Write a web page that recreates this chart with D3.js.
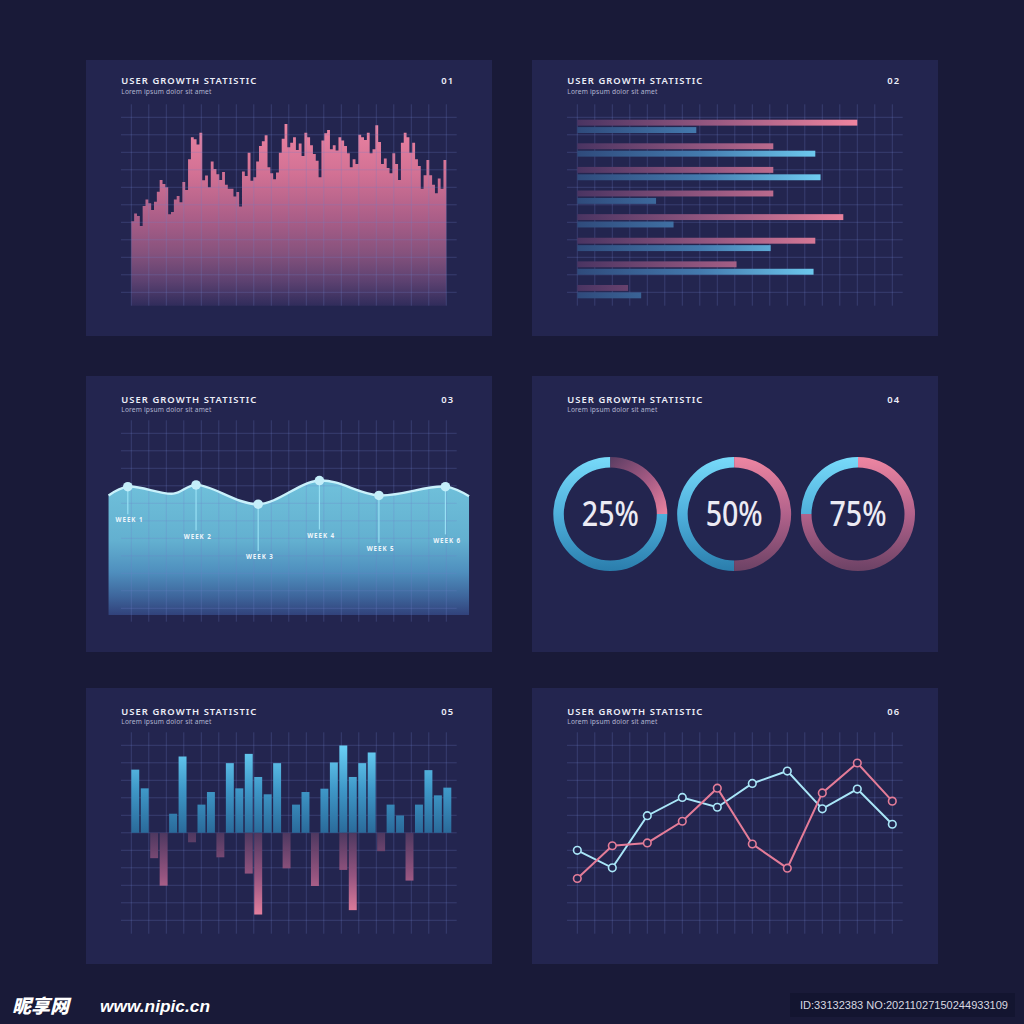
<!DOCTYPE html>
<html><head><meta charset="utf-8">
<script src="https://cdn.jsdelivr.net/npm/d3@7"></script>
<style>html,body{margin:0;padding:0;background:#191a38;}svg{display:block}</style>
</head><body>
<svg id="c" width="1024" height="1024"></svg>
<script>
// ---------------- DATA ----------------
const panelNumbers = ["01", "02", "03", "04", "05", "06"];
const titleText = "USER GROWTH STATISTIC";
const subtitleText = "Lorem ipsum dolor sit amet";

// Panel 01: stepped area (grid units, 0..10)
const growthValues = [4.06,4.51,4.36,3.79,4.93,5.31,5.09,4.70,5.18,5.75,6.42,6.19,6.00,4.46,4.59,5.31,5.50,5.14,6.30,5.85,
  7.60,8.86,8.74,8.44,9.12,6.40,6.67,6.00,7.47,7.05,6.74,6.42,6.88,6.15,5.92,5.92,5.47,5.73,4.90,6.91,
  6.65,7.98,6.38,6.57,7.47,8.36,8.63,8.97,7.14,6.80,6.46,6.84,7.98,8.78,9.62,8.29,8.55,8.86,8.13,8.51,
  7.79,9.12,8.86,8.40,7.90,7.52,6.57,8.67,9.09,9.28,8.17,8.40,8.10,8.86,8.67,8.36,7.94,7.14,7.60,7.33,
  9.01,8.86,8.70,9.12,7.94,8.17,9.54,8.59,7.33,7.64,7.10,6.80,7.94,7.33,6.42,8.55,9.12,8.86,7.98,8.55,
  7.60,7.22,5.92,6.69,7.56,6.69,6.15,5.66,6.50,5.92,7.56];

// Panel 02: paired horizontal bars (grid units, 0..18)
const hbarCategories = ["A", "B", "C", "D", "E", "F", "G", "H"];
const hbarPink = [16.0, 11.2, 11.2, 11.2, 15.2, 13.6, 9.1, 2.9];
const hbarBlue = [6.8, 13.6, 13.9, 4.5, 5.5, 11.05, 13.5, 3.65];

// Panel 03: smooth wave (x in grid columns, y in grid units)
const waveX = [-1.3, -0.2, 2.4, 3.7, 7.25, 10.75, 14.15, 17.95, 19.3];
const waveY = [6.45, 6.95, 6.55, 7.05, 5.95, 7.3, 6.45, 6.95, 6.4];
const weekLabels = ["WEEK 1", "WEEK 2", "WEEK 3", "WEEK 4", "WEEK 5", "WEEK 6"];
const weekKnots = [1, 3, 4, 5, 6, 7];

// Panel 04: donuts
const donutPercents = [25, 50, 75];

// Panel 05: positive / negative bars (grid units)
const posValues = [3.61,2.54,0,0,1.09,4.36,0,1.61,2.33,0,3.98,2.54,4.51,3.19,2.20,3.98,0,1.61,2.33,0,2.52,4.02,4.99,3.19,3.98,4.59,0,1.61,0.99,0,1.61,3.58,2.14,2.58];
const negValues = [0,0,-1.45,-3.02,0,0,-0.54,0,0,-1.40,0,0,-2.33,-4.67,0,0,-2.03,0,0,-3.04,0,0,-2.12,-4.42,0,0,-1.05,0,0,-2.73,0,0,0,0];

// Panel 06: two lines (grid units)
const lineBlue = [4.0, 3.0, 5.98, 7.02, 6.46, 7.82, 8.53, 6.37, 7.5, 5.49];
const linePink = [2.39, 4.26, 4.42, 5.66, 7.55, 4.36, 2.98, 7.28, 8.99, 6.81];

// ---------------- LAYOUT / STYLE ----------------
const panelCols = [86, 532], panelRows = [60, 376, 688];
const panelW = 406, panelH = 276;
const titleDy = [23.8, 26.7, 26.7], subDy = [33.8, 35.9, 35.9];
const weekLabelDrop = [33.6, 51.6, 52.7, 55, 53.3, 53.7];
const C = {bg: "#191a38", panel: "#23254f", grid: "#6a80c8", title: "#eceef8", sub: "#b3b5d2"};

const svg = d3.select("#c");
svg.append("rect").attr("width", 1024).attr("height", 1024).attr("fill", C.bg);
const defs = svg.append("defs");
function linGrad(id, x1, y1, x2, y2, stops) {
  const g = defs.append("linearGradient").attr("id", id).attr("gradientUnits", "userSpaceOnUse")
    .attr("x1", x1).attr("y1", y1).attr("x2", x2).attr("y2", y2);
  stops.forEach(s => g.append("stop").attr("offset", s[0]).attr("stop-color", s[1]));
}

const panels = panelNumbers.map((n, k) => ({
  n, px: panelCols[k % 2], py: panelRows[Math.floor(k / 2)], row: Math.floor(k / 2)
}));

function gridScales(p) {
  return {
    gx: d3.scaleLinear().domain([0, 18]).range([p.px + 45.3, p.px + 360.3]),
    gy: d3.scaleLinear().domain([0, 10]).range([p.py + 232.3, p.py + 57.3])
  };
}
function drawGrid(g, p) {
  const {gx, gy} = gridScales(p);
  const gg = g.append("g").attr("stroke", C.grid).attr("stroke-opacity", 0.28).attr("stroke-width", 1);
  gg.selectAll(".v").data(d3.range(19)).join("line")
    .attr("x1", d => gx(d)).attr("x2", d => gx(d))
    .attr("y1", p.py + 44.3).attr("y2", p.py + 245.7);
  gg.selectAll(".h").data(d3.range(11)).join("line")
    .attr("y1", d => gy(d)).attr("y2", d => gy(d))
    .attr("x1", p.px + 35).attr("x2", p.px + 370.7);
}

// panel frames + titles
panels.forEach(p => {
  const g = svg.append("g");
  g.append("rect").attr("x", p.px).attr("y", p.py).attr("width", panelW).attr("height", panelH).attr("fill", C.panel);
  g.append("text").attr("x", p.px + 35.3).attr("y", p.py + titleDy[p.row])
    .attr("font-family", "Noto Sans, Open Sans, sans-serif").attr("font-weight", 600).attr("font-size", 9.4)
    .attr("fill", C.title).attr("textLength", 135).attr("lengthAdjust", "spacing").text(titleText);
  g.append("text").attr("x", p.px + 35.3).attr("y", p.py + subDy[p.row])
    .attr("font-family", "Noto Sans, Open Sans, sans-serif").attr("font-size", 6.6)
    .attr("fill", C.sub).attr("textLength", 90).attr("lengthAdjust", "spacing").text(subtitleText);
  g.append("text").attr("x", p.px + 368).attr("y", p.py + titleDy[p.row]).attr("text-anchor", "end")
    .attr("font-family", "Noto Sans, Open Sans, sans-serif").attr("font-weight", 600).attr("font-size", 9.4)
    .attr("letter-spacing", 1).attr("fill", C.title).text(p.n);
});

// ---------- Panel 01 ----------
(function () {
  const p = panels[0], {gx, gy} = gridScales(p);
  const x = d3.scaleLinear().domain([0, growthValues.length]).range(gx.range());
  linGrad("g1", 0, p.py + 57, 0, p.py + 246, [[0, "#ee85a3"], [0.3, "#d27194"], [0.55, "#a85d87"], [0.72, "#86527d"], [0.87, "#5c4170"], [1, "#302c5b"]]);
  const data = growthValues.map((v, i) => ({i, v}));
  data.push({i: growthValues.length, v: growthValues[growthValues.length - 1]});
  const area = d3.area().x(d => x(d.i)).y0(gy(-0.77)).y1(d => gy(d.v)).curve(d3.curveStepAfter);
  svg.append("path").datum(data).attr("d", area).attr("fill", "url(#g1)");
  drawGrid(svg.append("g"), p);
})();

// ---------- Panel 02 ----------
(function () {
  const p = panels[1], {gx} = gridScales(p);
  const y = d3.scaleBand().domain(hbarCategories).range([p.py + 59.7, p.py + 238.3]).paddingInner(0.436);
  const sub = d3.scaleBand().domain(["pink", "blue"]).range([0, y.bandwidth()]).paddingInner(0.2);
  linGrad("g2p", p.px + 45, 0, p.px + 328, 0, [[0, "#4a3462"], [0.5, "#9a5a82"], [1, "#f0859f"]]);
  linGrad("g2b", p.px + 45, 0, p.px + 292, 0, [[0, "#2f4a7b"], [0.5, "#447aae"], [1, "#70cff3"]]);
  drawGrid(svg.append("g"), p);
  const g = svg.append("g");
  g.selectAll(".pk").data(hbarPink).join("rect")
    .attr("x", gx(0)).attr("y", (d, i) => y(hbarCategories[i]) + sub("pink"))
    .attr("width", d => gx(d) - gx(0)).attr("height", sub.bandwidth()).attr("fill", "url(#g2p)");
  g.selectAll(".bl").data(hbarBlue).join("rect")
    .attr("x", gx(0)).attr("y", (d, i) => y(hbarCategories[i]) + sub("blue"))
    .attr("width", d => gx(d) - gx(0)).attr("height", sub.bandwidth()).attr("fill", "url(#g2b)");
})();

// ---------- Panel 03 ----------
(function () {
  const p = panels[2], {gx, gy} = gridScales(p);
  linGrad("g3", 0, p.py + 104, 0, p.py + 239, [[0, "#70c1db"], [0.45, "#63b0d0"], [0.68, "#4f8fbe"], [0.86, "#3e669c"], [1, "#31427b"]]);
  const pts = waveX.map((v, i) => ({x: v, y: waveY[i]}));
  const curve = d3.curveCatmullRom.alpha(0.5);
  const area = d3.area().x(d => gx(d.x)).y0(gy(-0.38)).y1(d => gy(d.y)).curve(curve);
  const line = d3.line().x(d => gx(d.x)).y(d => gy(d.y)).curve(curve);
  svg.append("path").datum(pts).attr("d", area).attr("fill", "url(#g3)");
  drawGrid(svg.append("g"), p);
  svg.append("path").datum(pts).attr("d", line).attr("fill", "none").attr("stroke", "#c9f1fb").attr("stroke-width", 2.4);
  const wk = weekKnots.map((k, i) => ({label: weekLabels[i], x: gx(pts[k].x), y: gy(pts[k].y), drop: weekLabelDrop[i]}));
  const g = svg.append("g");
  g.selectAll("line").data(wk).join("line")
    .attr("x1", d => d.x).attr("x2", d => d.x).attr("y1", d => d.y).attr("y2", d => d.y + d.drop - 6)
    .attr("stroke", "#98e0f4").attr("stroke-width", 1.2);
  g.selectAll("circle").data(wk).join("circle")
    .attr("cx", d => d.x).attr("cy", d => d.y).attr("r", 4.8).attr("fill", "#c4eef9");
  g.selectAll("text").data(wk).join("text")
    .attr("x", d => d.x + 1.2).attr("y", d => d.y + d.drop + 2.2).attr("text-anchor", "middle")
    .attr("font-family", "Noto Sans, sans-serif").attr("font-weight", 700).attr("font-size", 6.2)
    .attr("fill", "#eef6fb").attr("textLength", 27).attr("lengthAdjust", "spacing").text(d => d.label);
})();

// ---------- Panel 04 ----------
(function () {
  const p = panels[3];
  const cx = d3.scalePoint().domain(donutPercents).range([p.px + 78.3, p.px + 326]);
  const cy = p.py + 138;
  const ang = d3.scaleLinear().domain([0, 100]).range([0, 2 * Math.PI]);
  const arc = d3.arc().innerRadius(46.5).outerRadius(57);
  donutPercents.forEach((v, k) => {
    const g = svg.append("g").attr("transform", `translate(${cx(v)},${cy})`);
    linGrad("g4b" + k, 0, -57, 0, 57, [[0, "#78daf9"], [0.5, "#4fb0dc"], [1, "#2a7dac"]]);
    if (k === 0) linGrad("g4p" + k, 0, -57, 57, 0, [[0, "#5a3c62"], [0.55, "#a85c85"], [1, "#ec84a0"]]);
    else linGrad("g4p" + k, 0, -57, 0, 57, [[0, "#ee86a2"], [0.5, "#b1628b"], [1, "#6c4265"]]);
    g.append("path").attr("d", arc({startAngle: ang(v), endAngle: ang(100)})).attr("fill", `url(#g4b${k})`);
    g.append("path").attr("d", arc({startAngle: ang(0), endAngle: ang(v)})).attr("fill", `url(#g4p${k})`);
    g.append("text").attr("y", 12).attr("text-anchor", "middle")
      .attr("font-family", "Noto Sans, sans-serif").attr("font-weight", 500).attr("font-size", 34)
      .attr("fill", "#ecebf4").attr("textLength", 57).attr("lengthAdjust", "spacingAndGlyphs").text(v + "%");
  });
})();

// ---------- Panel 05 ----------
(function () {
  const p = panels[4], {gx, gy} = gridScales(p);
  const y = gy.copy().domain([-5, 5]);
  const x = d3.scaleBand().domain(d3.range(posValues.length)).range([p.px + 45.3, p.px + 365.3]).paddingInner(0.16);
  linGrad("g5b", 0, y(5), 0, y(0), [[0, "#6ad0f5"], [0.5, "#3f98c8"], [1, "#2a6a9a"]]);
  linGrad("g5p", 0, y(0), 0, y(-5), [[0, "#4e3860"], [0.5, "#965580"], [1, "#ee85a2"]]);
  drawGrid(svg.append("g"), p);
  const g = svg.append("g");
  g.selectAll(".pos").data(posValues).join("rect")
    .attr("x", (d, i) => x(i)).attr("width", x.bandwidth())
    .attr("y", d => y(d)).attr("height", d => y(0) - y(d)).attr("fill", "url(#g5b)");
  g.selectAll(".neg").data(negValues).join("rect")
    .attr("x", (d, i) => x(i)).attr("width", x.bandwidth())
    .attr("y", y(0)).attr("height", d => y(d) - y(0)).attr("fill", "url(#g5p)");
})();

// ---------- Panel 06 ----------
(function () {
  const p = panels[5], {gx, gy} = gridScales(p);
  const x = gx.copy().domain([0, lineBlue.length - 1]);
  drawGrid(svg.append("g"), p);
  const line = d3.line().x((d, i) => x(i)).y(d => gy(d));
  [[lineBlue, "#a9e6f8"], [linePink, "#e47c98"]].forEach(([vals, col]) => {
    const g = svg.append("g");
    g.append("path").datum(vals).attr("d", line).attr("fill", "none").attr("stroke", col).attr("stroke-width", 2);
    g.selectAll("circle").data(vals).join("circle")
      .attr("cx", (d, i) => x(i)).attr("cy", d => gy(d)).attr("r", 3.8)
      .attr("fill", C.panel).attr("stroke", col).attr("stroke-width", 1.6);
  });
})();

// ---------- watermark ----------
svg.append("text").attr("x", 12).attr("y", 1013).attr("font-family", "Noto Sans CJK SC, sans-serif")
  .attr("font-weight", 900).attr("font-size", 19).attr("font-style", "italic").attr("fill", "#ffffff").text("昵享网");
svg.append("text").attr("x", 100).attr("y", 1012).attr("font-family", "Liberation Sans, sans-serif")
  .attr("font-weight", 700).attr("font-size", 17).attr("font-style", "italic").attr("fill", "#ffffff")
  .attr("textLength", 110).attr("lengthAdjust", "spacingAndGlyphs").text("www.nipic.cn");
svg.append("rect").attr("x", 790).attr("y", 993).attr("width", 225).attr("height", 24).attr("fill", "#131530");
svg.append("text").attr("x", 800).attr("y", 1009).attr("font-family", "Liberation Sans, sans-serif")
  .attr("font-size", 11).attr("fill", "#d8d8e0").attr("textLength", 208).attr("lengthAdjust", "spacingAndGlyphs")
  .text("ID:33132383 NO:20211027150244933109");
</script>
</body></html>
